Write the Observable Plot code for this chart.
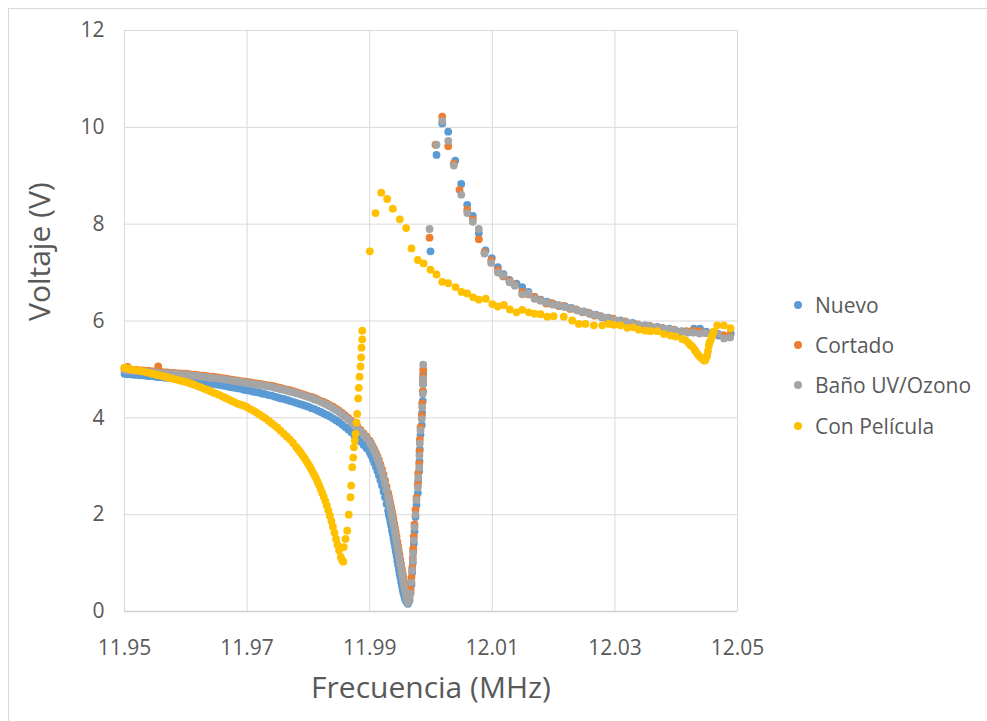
<!DOCTYPE html>
<html>
<head>
<meta charset="utf-8">
<script src="https://cdn.jsdelivr.net/npm/d3@7"></script>
<script src="https://cdn.jsdelivr.net/npm/@observablehq/plot@0.6"></script>
<style>
  html, body { margin: 0; padding: 0; background: #ffffff; }
  #wrap { position: relative; width: 987px; height: 721px; overflow: hidden; background: #ffffff; font-family: "Open Sans", sans-serif; }
  #frame { position: absolute; left: 8px; top: 8px; width: 1100px; height: 900px; border: 1px solid #d9d9d9; box-sizing: border-box; }
  #chart { position: absolute; left: 0; top: 0; }
  #legend { position: absolute; left: 790px; top: 290px; color: #595959; font-size: 21px; }
  .row { position: absolute; left: 0; height: 30px; white-space: nowrap; display: flex; align-items: center; }
  .sw { width: 8px; height: 8px; border-radius: 50%; margin-left: 4px; margin-right: 13px; }
</style>
</head>
<body>
<div id="wrap">
  <div id="frame"></div>
  <div id="chart"></div>
  <div id="legend"></div>
</div>
<script>
// ---- Axis ticks ----
const xTicks = [11.95, 11.97, 11.99, 12.01, 12.03, 12.05];
const yTicks = [0, 2, 4, 6, 8, 10, 12];

// ---- Series names / colours ----
const seriesNames = ["Nuevo", "Cortado", "Baño UV/Ozono", "Con Película"];
const seriesColors = ["#5B9BD5", "#ED7D31", "#A5A5A5", "#FFC000"];

// ---- Shared frequencies (MHz) for Nuevo / Cortado / Baño: approach, dip and rising arm ----
const freqDip = [
  11.95,11.9505,11.951,11.9515,11.952,11.9525,11.953,11.9535,11.954,11.9545,
  11.955,11.9555,11.956,11.9565,11.957,11.9575,11.958,11.9585,11.959,11.9595,
  11.96,11.9605,11.961,11.9615,11.962,11.9625,11.963,11.9635,11.964,11.9645,
  11.965,11.9655,11.966,11.9665,11.967,11.9675,11.968,11.9685,11.969,11.9695,
  11.97,11.9705,11.971,11.9715,11.972,11.9725,11.973,11.9735,11.974,11.9745,
  11.975,11.9755,11.976,11.9765,11.977,11.9775,11.978,11.9785,11.979,11.9795,
  11.98,11.9805,11.981,11.9815,11.982,11.9825,11.983,11.9835,11.984,11.9845,
  11.985,11.9855,11.986,11.9865,11.987,11.9875,11.988,11.9885,11.989,11.9895,
  11.99,
  11.99025,11.9905,11.99075,11.991,11.99125,11.9915,11.99175,11.992,11.99225,11.9925,
  11.99275,
  11.993,11.993125,11.99325,11.993375,11.9935,11.993625,11.99375,11.993875,11.994,11.994125,
  11.99425,11.994375,11.9945,11.994625,11.99475,11.994875,11.995,11.995125,11.99525,11.995375,
  11.9955,11.995625,11.99575,11.995875,11.996,11.996125,11.99625,
  11.99649,11.99666,11.99682,11.99693,11.99703,11.9971,11.9972,11.99731,11.99747,11.99763,
  11.99785,11.99791,11.99808,11.99812,11.99817,11.99829,11.9985,11.99856,11.99866,11.99868,
  11.9987,11.99873
];
const nuevoDip = [
  4.91,4.90,4.90,4.89,4.89,4.88,4.88,4.87,4.86,4.86,
  4.85,4.84,4.84,4.83,4.83,4.82,4.81,4.81,4.80,4.79,
  4.78,4.78,4.77,4.76,4.75,4.74,4.73,4.72,4.71,4.70,
  4.69,4.68,4.67,4.66,4.64,4.63,4.62,4.61,4.60,4.58,
  4.57,4.56,4.54,4.53,4.52,4.50,4.49,4.47,4.46,4.44,
  4.42,4.40,4.39,4.37,4.35,4.33,4.31,4.29,4.27,4.25,
  4.23,4.20,4.18,4.15,4.12,4.09,4.06,4.03,3.99,3.95,
  3.91,3.86,3.81,3.76,3.70,3.64,3.58,3.51,3.44,3.37,
  3.29,
  3.22,3.15,3.07,2.99,2.90,2.81,2.71,2.60,2.48,2.36,
  2.22,
  2.08,2.00,1.93,1.85,1.77,1.68,1.60,1.51,1.42,1.33,
  1.24,1.15,1.05,0.96,0.87,0.78,0.70,0.61,0.53,0.45,
  0.38,0.32,0.27,0.23,0.20,0.18,0.16,
  0.22,0.40,0.55,0.80,1.00,1.25,1.40,1.65,1.95,2.20,
  2.45,2.70,2.90,3.10,3.35,3.65,3.85,4.10,4.35,4.55,
  4.70,4.92
];
const cortadoDip = [
  5.03,5.05,5.00,4.99,4.99,4.98,4.98,4.97,4.97,4.96,
  4.96,5.06,4.95,4.94,4.94,4.93,4.93,4.92,4.92,4.91,
  4.91,4.90,4.89,4.89,4.88,4.87,4.87,4.86,4.85,4.85,
  4.84,4.83,4.82,4.81,4.80,4.79,4.78,4.77,4.76,4.75,
  4.74,4.73,4.72,4.71,4.70,4.69,4.68,4.67,4.66,4.65,
  4.63,4.62,4.60,4.58,4.57,4.55,4.53,4.51,4.49,4.47,
  4.45,4.43,4.41,4.38,4.35,4.33,4.30,4.26,4.23,4.19,
  4.15,4.10,4.05,4.00,3.94,3.88,3.82,3.75,3.68,3.61,
  3.53,
  3.47,3.41,3.35,3.28,3.21,3.13,3.04,2.94,2.83,2.71,
  2.58,
  2.45,2.38,2.30,2.22,2.15,2.07,1.99,1.91,1.82,1.73,
  1.64,1.55,1.45,1.36,1.26,1.17,1.07,0.98,0.88,0.79,
  0.70,0.61,0.52,0.44,0.36,0.30,0.24,
  0.30,0.45,0.70,0.90,1.10,1.30,1.55,1.80,2.10,2.35,
  2.62,2.85,3.05,3.30,3.55,3.80,4.05,4.30,4.55,4.75,
  4.85,5.00
];
const banoDip = [
  4.99,4.98,4.98,4.97,4.97,4.96,4.96,4.95,4.95,4.94,
  4.94,4.93,4.93,4.92,4.92,4.91,4.91,4.90,4.90,4.89,
  4.89,4.88,4.87,4.87,4.86,4.85,4.85,4.84,4.83,4.82,
  4.82,4.81,4.80,4.79,4.78,4.77,4.76,4.75,4.74,4.73,
  4.72,4.71,4.70,4.69,4.68,4.67,4.66,4.65,4.64,4.62,
  4.61,4.59,4.58,4.56,4.54,4.53,4.51,4.49,4.47,4.45,
  4.43,4.41,4.38,4.36,4.33,4.30,4.27,4.24,4.20,4.16,
  4.12,4.07,4.02,3.97,3.91,3.85,3.79,3.72,3.65,3.58,
  3.50,
  3.44,3.38,3.31,3.24,3.16,3.08,2.98,2.88,2.76,2.64,
  2.51,
  2.37,2.30,2.22,2.14,2.06,1.98,1.90,1.81,1.72,1.63,
  1.54,1.45,1.35,1.26,1.16,1.07,0.97,0.88,0.78,0.69,
  0.60,0.52,0.44,0.36,0.28,0.22,0.18,
  0.25,0.37,0.60,0.85,1.05,1.20,1.47,1.74,2.00,2.30,
  2.56,2.77,2.97,3.22,3.47,3.74,3.98,4.22,4.50,4.70,
  4.80,5.10
];

// ---- After the jump: peak and tail ----
const nuevoPeakF = [
  11.99992,12.0009,12.00183,12.00281,12.00395,12.00493,12.00591,12.00682,12.0078,12.0089,
  12.00992,12.0109,12.01183,12.0128,12.01395,12.01488,12.0159,12.0169,12.0179,12.0189,
  12.0199,12.0209,12.0219,12.0229,12.0239,12.0249,12.0259,12.0269,12.0279,12.0289,
  12.0299,12.0309,12.0319,12.0329,12.0339,12.0349,12.0359,12.0369,12.0379,12.0389,
  12.0399,12.0409,12.0419,12.0429,12.0439,12.0449,12.0459,12.0469,12.0479,12.0489
];
const nuevoPeakV = [
  7.44,9.43,10.08,9.91,9.31,8.83,8.40,8.17,7.81,7.46,
  7.30,7.11,6.97,6.85,6.77,6.70,6.60,6.50,6.44,6.40,
  6.36,6.31,6.30,6.27,6.22,6.20,6.15,6.13,6.08,6.07,
  6.02,6.01,5.97,5.96,5.91,5.91,5.88,5.88,5.84,5.84,
  5.80,5.79,5.76,5.84,5.84,5.78,5.72,5.70,5.66,5.74
];
const cortadoPeakF = [
  11.99976,12.00073,12.00183,12.00281,12.00372,12.00465,12.00591,12.00682,12.0078,12.00873,
  12.00982,12.0109,12.01178,12.01281,12.01367,12.01488,12.01586,12.01688,12.01785,12.01879,
  12.0197,12.0207,12.0217,12.0227,12.0237,12.0247,12.0257,12.0267,12.0277,12.0287,
  12.0297,12.0307,12.0317,12.0327,12.0337,12.0347,12.0357,12.0367,12.0377,12.0387,
  12.0397,12.0407,12.0417,12.0427,12.0437,12.0447,12.0457,12.0467,12.0477,12.0487
];
const cortadoPeakV = [
  7.72,9.64,10.22,9.61,9.25,8.71,8.30,8.10,7.69,7.42,
  7.25,7.05,6.92,6.83,6.75,6.60,6.55,6.50,6.43,6.36,
  6.37,6.32,6.31,6.25,6.24,6.18,6.17,6.11,6.10,6.05,
  6.05,5.99,5.99,5.94,5.93,5.89,5.90,5.86,5.86,5.81,
  5.82,5.77,5.79,5.80,5.79,5.75,5.72,5.74,5.71,5.70
];
const banoPeakF = [
  11.99976,12.0009,12.00183,12.00281,12.00372,12.00493,12.00591,12.00682,12.0078,12.00873,
  12.00982,12.0109,12.01178,12.01281,12.01367,12.01488,12.01586,12.01688,12.01785,12.01879,
  12.0198,12.0208,12.0218,12.0228,12.0238,12.0248,12.0258,12.0268,12.0278,12.0288,
  12.0298,12.0308,12.0318,12.0328,12.0338,12.0348,12.0358,12.0368,12.0378,12.0388,
  12.0398,12.0408,12.0418,12.0428,12.0438,12.0448,12.0458,12.0468,12.0478,12.0488
];
const banoPeakV = [
  7.90,9.64,10.13,9.72,9.21,8.61,8.23,8.05,7.90,7.39,
  7.20,7.00,6.94,6.80,6.73,6.55,6.57,6.46,6.42,6.38,
  6.34,6.33,6.29,6.26,6.22,6.19,6.16,6.12,6.09,6.06,
  6.03,6.00,5.98,5.95,5.92,5.90,5.89,5.87,5.85,5.83,
  5.81,5.78,5.77,5.76,5.74,5.75,5.73,5.74,5.64,5.66
];

// ---- Con Película ----
const peliculaF = [
  11.95,11.9505,11.951,11.9515,11.952,11.9525,11.953,11.9535,11.954,11.9545,
  11.955,11.9555,11.956,11.9565,11.957,11.9575,11.958,11.9585,11.959,11.9595,
  11.96,11.9605,11.961,11.9615,11.962,11.9625,11.963,11.9635,11.964,11.9645,
  11.965,11.9655,11.966,11.9665,11.967,11.9675,11.968,11.9685,11.969,11.9695,
  11.97,11.9705,11.971,11.9715,11.972,11.9725,11.973,11.9735,11.974,11.9745,
  11.975,11.9755,11.976,11.9765,11.977,11.9775,
  11.978,11.97825,11.9785,11.97875,11.979,11.97925,11.9795,11.97975,11.98,11.98025,
  11.9805,11.98075,11.981,11.98125,11.9815,11.98175,11.982,11.98225,11.9825,11.98275,
  11.983,11.98325,11.9835,11.98375,11.984,11.98425,11.9845,11.98475,11.985,
  11.9853,11.9855,11.9857,
  11.98578,11.98605,11.98633,11.98659,11.98687,11.98698,11.98715,11.98731,11.98741,11.98757,
  11.98768,11.98785,11.98796,11.98812,11.98822,11.98834,11.9885,11.98861,11.98866,11.98878,
  11.98879,
  11.99002,11.99095,11.99188,11.99285,11.99377,11.99491,11.99595,11.99682,11.99785,11.99878,
  11.99992,12.0009,12.00183,12.00281,12.004,12.00498,12.00591,12.00689,12.0078,12.00894,
  12.01,12.01089,12.01188,12.01286,12.01395,12.01488,12.01595,12.01688,12.01786,12.01896,
  12.02,12.02166,12.02303,12.02411,12.0252,12.02656,12.02793,12.02901,12.02982,12.03091,
  12.032,12.03298,12.0339,12.03499,12.03581,12.0369,12.03798,12.03907,12.03989,12.04098,
  12.04152,12.04201,12.04233,12.04266,12.04299,12.04315,12.04347,12.04372,12.04396,12.04424,
  12.04445,12.04462,12.04478,12.04494,12.04506,12.04519,12.04532,12.04543,12.0456,12.04576,
  12.04587,12.04608,12.04669,12.04777,12.04886
];
const peliculaV = [
  5.03,5.02,5.00,4.99,4.98,4.97,4.96,4.94,4.93,4.91,
  4.90,4.88,4.87,4.85,4.84,4.82,4.80,4.79,4.77,4.76,
  4.74,4.72,4.70,4.68,4.65,4.63,4.60,4.58,4.55,4.52,
  4.50,4.47,4.44,4.41,4.38,4.35,4.32,4.29,4.27,4.25,
  4.22,4.18,4.15,4.11,4.07,4.03,3.99,3.94,3.89,3.84,
  3.79,3.73,3.67,3.61,3.55,3.48,
  3.40,3.36,3.32,3.28,3.23,3.19,3.14,3.09,3.04,2.99,
  2.93,2.87,2.81,2.75,2.68,2.61,2.53,2.45,2.37,2.28,
  2.19,2.09,1.98,1.87,1.75,1.63,1.50,1.38,1.26,
  1.12,1.06,1.03,
  1.33,1.50,1.67,2.00,2.36,2.60,2.98,3.18,3.39,3.53,
  3.67,3.90,4.08,4.40,4.62,4.85,5.06,5.25,5.45,5.62,
  5.80,
  7.44,8.23,8.65,8.52,8.32,8.10,7.92,7.50,7.26,7.19,
  7.06,6.96,6.81,6.78,6.70,6.60,6.57,6.49,6.44,6.46,
  6.35,6.30,6.33,6.24,6.18,6.23,6.18,6.15,6.14,6.09,
  6.10,6.09,6.01,5.94,5.94,5.91,5.91,5.94,5.92,5.91,
  5.86,5.87,5.82,5.80,5.79,5.79,5.73,5.70,5.68,5.63,
  5.60,5.55,5.50,5.47,5.41,5.38,5.32,5.28,5.25,5.22,
  5.20,5.18,5.20,5.25,5.29,5.38,5.49,5.55,5.60,5.66,
  5.70,5.78,5.91,5.91,5.85
];

// ---- Build tables ----
function rows(f, v) { return f.map((x, i) => ({ f: x, v: v[i] })); }
const nuevo = rows(freqDip, nuevoDip).concat(rows(nuevoPeakF, nuevoPeakV));
const cortado = rows(freqDip, cortadoDip).concat(rows(cortadoPeakF, cortadoPeakV));
const bano = rows(freqDip, banoDip).concat(rows(banoPeakF, banoPeakV));
const pelicula = rows(peliculaF, peliculaV);
const allSeries = [nuevo, cortado, bano, pelicula];

const R = 3.9;
const chart = Plot.plot({
  width: 987,
  height: 721,
  marginLeft: 124,
  marginRight: 250,
  marginTop: 30,
  marginBottom: 110,
  x: { domain: [11.95, 12.05] },
  y: { domain: [0, 12] },
  style: { fontFamily: "Open Sans, sans-serif", color: "#595959", background: "transparent", overflow: "visible" },
  marks: [
    Plot.gridX(xTicks, { stroke: "#d9d9d9", strokeOpacity: 1, strokeWidth: 1 }),
    Plot.gridY(yTicks, { stroke: "#d9d9d9", strokeOpacity: 1, strokeWidth: 1 }),
    Plot.ruleY([0], { stroke: "#cfcfcf", strokeWidth: 1.3 }),
    Plot.axisX(xTicks, { tickSize: 0, tickPadding: 29, fontSize: 21, tickFormat: d => d.toFixed(2), label: null, fill: "#595959" }),
    Plot.axisY(yTicks, { tickSize: 0, tickPadding: 20, fontSize: 21, label: null, fill: "#595959" }),
    ...allSeries.map((s, i) => Plot.dot(s, { x: "f", y: "v", r: R, fill: seriesColors[i], stroke: null })),
    Plot.text(["Frecuencia (MHz)"], { frameAnchor: "bottom", dy: 86, fontSize: 30, fill: "#595959" }),
    Plot.text(["Voltaje (V)"], { frameAnchor: "left", dx: -84, rotate: -90, fontSize: 30, fill: "#595959" })
  ]
});
document.getElementById("chart").appendChild(chart);

// ---- Legend ----
const legend = document.getElementById("legend");
const rowTops = [0, 40, 80, 121];
seriesNames.forEach((name, i) => {
  const row = document.createElement("div");
  row.className = "row";
  row.style.top = rowTops[i] + "px";
  const sw = document.createElement("span");
  sw.className = "sw";
  sw.style.background = seriesColors[i];
  const tx = document.createElement("span");
  tx.textContent = name;
  row.appendChild(sw);
  row.appendChild(tx);
  legend.appendChild(row);
});
</script>
</body>
</html>
